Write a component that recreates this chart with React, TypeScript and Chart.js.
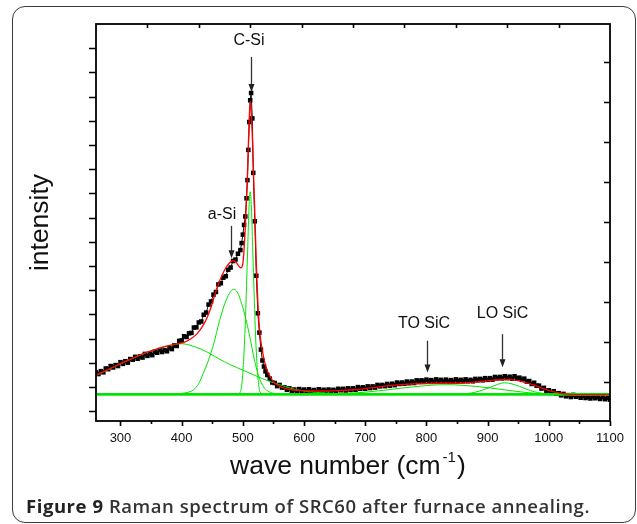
import React, { useEffect, useLayoutEffect, useRef } from "react";
import { Chart, registerables } from "chart.js";

Chart.register(...registerables);

// ---------- axes ----------
const X_MIN = 260;
const X_MAX = 1100;
const Y_MIN = -0.4;
const Y_MAX = 16;
const xMajorTicks = [300, 400, 500, 600, 700, 800, 900, 1000, 1100];
const xMinorTicks = [350, 450, 550, 650, 750, 850, 950, 1050];
const yLeftTicks = [0, 1, 2, 3, 4, 5, 6, 7, 8, 9, 10, 11, 12, 13, 14, 15];
const topTicks = [1, 2, 3, 4, 5, 6, 7, 8, 9];
const rightTicks = [1, 2, 3, 4, 5, 6, 7, 8, 9];

// ---------- measured spectrum (black squares) ----------
const spectrum: [number, number][] = [
  [260, 1.61], [264, 1.54], [268, 1.66], [272, 1.61], [276, 1.77], [280, 1.74], [284, 1.87], [288, 1.81],
  [292, 1.91], [296, 1.87], [300, 2.03], [304, 1.96], [308, 2.07], [312, 2.01], [316, 2.16], [320, 2.13],
  [324, 2.25], [328, 2.17], [332, 2.27], [336, 2.22], [340, 2.37], [344, 2.29], [348, 2.39], [352, 2.32],
  [356, 2.46], [360, 2.42], [364, 2.53], [368, 2.45], [372, 2.53], [376, 2.48], [380, 2.62], [384, 2.57],
  [388, 2.72], [392, 2.7], [396, 2.91], [400, 2.93], [404, 3.1], [408, 3.07], [412, 3.22], [416, 3.24],
  [420, 3.46], [424, 3.47], [428, 3.67], [432, 3.71], [436, 3.99], [440, 4.08], [444, 4.41], [448, 4.54],
  [452, 4.82], [456, 4.93], [460, 5.24], [464, 5.29], [468, 5.52], [472, 5.58], [476, 5.85], [480, 5.94],
  [484, 6.21], [488, 6.27], [492, 6.51], [496, 6.66],
  [498, 6.95], [500, 7.3], [502, 7.7], [504, 8.05], [506, 8.8], [507.5, 9.55], [509, 10.8], [510.5, 11.95],
  [512, 12.85], [513.5, 13.15], [515.5, 12.1], [517, 9.85], [519.5, 7.85], [522, 5.6], [524.5, 4.05],
  [527, 3.25], [529.5, 2.55], [532, 2.1], [534.5, 1.85], [537, 1.65], [540, 1.5],
  [544, 1.35], [548, 1.19], [552, 1.17], [556, 1.04], [560, 1.09], [564, 0.98], [568, 0.99], [572, 0.89],
  [576, 0.95], [580, 0.85], [584, 0.9], [588, 0.83], [592, 0.92], [596, 0.85], [600, 0.9], [604, 0.83],
  [608, 0.91], [612, 0.82], [616, 0.88], [620, 0.81], [624, 0.91], [628, 0.84], [632, 0.89], [636, 0.82],
  [640, 0.9], [644, 0.83], [648, 0.89], [652, 0.83], [656, 0.93], [660, 0.87], [664, 0.93], [668, 0.86],
  [672, 0.95], [676, 0.88], [680, 0.95], [684, 0.89], [688, 1.0], [692, 0.93], [696, 0.99], [700, 0.93],
  [704, 1.03], [708, 0.96], [712, 1.03], [716, 0.98], [720, 1.09], [724, 1.03], [728, 1.09], [732, 1.04],
  [736, 1.13], [740, 1.06], [744, 1.14], [748, 1.08], [752, 1.19], [756, 1.13], [760, 1.19], [764, 1.14],
  [768, 1.23], [772, 1.16], [776, 1.23], [780, 1.17], [784, 1.28], [788, 1.22], [792, 1.28], [796, 1.22],
  [800, 1.31], [804, 1.23], [808, 1.29], [812, 1.22], [816, 1.32], [820, 1.25], [824, 1.3], [828, 1.23],
  [832, 1.31], [836, 1.23], [840, 1.29], [844, 1.22], [848, 1.32], [852, 1.25], [856, 1.3], [860, 1.24],
  [864, 1.32], [868, 1.24], [872, 1.3], [876, 1.24], [880, 1.34], [884, 1.28], [888, 1.34], [892, 1.28],
  [896, 1.37], [900, 1.3], [904, 1.37], [908, 1.31], [912, 1.42], [916, 1.36], [920, 1.42], [924, 1.36],
  [928, 1.45], [932, 1.37], [936, 1.43], [940, 1.35], [944, 1.45], [948, 1.36], [952, 1.39], [956, 1.3],
  [960, 1.35], [964, 1.23], [968, 1.25], [972, 1.13], [976, 1.18], [980, 1.06], [984, 1.06], [988, 0.94],
  [992, 0.97], [996, 0.85], [1000, 0.87], [1004, 0.76], [1008, 0.83], [1012, 0.73], [1016, 0.75], [1020, 0.66],
  [1024, 0.72], [1028, 0.62], [1032, 0.67], [1036, 0.59], [1040, 0.68], [1044, 0.6], [1048, 0.64], [1052, 0.56],
  [1056, 0.64], [1060, 0.55], [1064, 0.6], [1068, 0.53], [1072, 0.62], [1076, 0.54], [1080, 0.59], [1084, 0.51],
  [1088, 0.59], [1092, 0.5], [1096, 0.56], [1100, 0.48],
];

// ---------- cumulative fit (red) ----------
const fitSum: [number, number][] = [
  [260, 1.5], [280, 1.73], [300, 1.97], [320, 2.2], [340, 2.41], [360, 2.58], [380, 2.72], [395, 2.8],
  [405, 2.86], [415, 3.0], [425, 3.2], [435, 3.55], [442, 3.9], [448, 4.3], [454, 4.8], [460, 5.25],
  [466, 5.62], [472, 5.92], [478, 6.13], [484, 6.22], [488, 6.18], [492, 6.05], [496, 5.93], [498, 5.95],
  [500, 6.1], [502, 6.7], [504, 7.6], [506, 8.75], [508, 10.2], [510, 11.8], [512, 12.8], [514, 12.2],
  [516, 11.0], [518, 9.4], [520, 7.8], [522, 6.1], [524, 4.8], [526, 3.8], [528, 3.2], [530, 2.8],
  [533, 2.35], [536, 2.0], [540, 1.68], [545, 1.42], [550, 1.22], [556, 1.1], [561, 1.02], [570, 0.94],
  [582, 0.88], [600, 0.85], [620, 0.84], [640, 0.84], [660, 0.86], [680, 0.89], [700, 0.94], [720, 1.0],
  [740, 1.06], [760, 1.1], [780, 1.13], [800, 1.15], [820, 1.16], [840, 1.16], [860, 1.17], [880, 1.21],
  [900, 1.26], [915, 1.3], [930, 1.32], [945, 1.29], [960, 1.21], [975, 1.09], [990, 0.95], [1005, 0.82],
  [1020, 0.74], [1035, 0.7], [1060, 0.69], [1100, 0.69],
];

// ---------- fitted components (green) ----------
const peakBroad: [number, number][] = [
  [260, 1.48], [280, 1.72], [300, 1.96], [320, 2.19], [340, 2.4], [360, 2.58], [380, 2.72], [400, 2.79],
  [420, 2.68], [440, 2.47], [460, 2.18], [480, 1.92], [500, 1.7], [520, 1.48], [540, 1.27], [560, 1.1],
  [580, 0.94], [600, 0.84], [620, 0.78], [650, 0.74], [700, 0.71], [760, 0.7],
];
const peakASi: [number, number][] = [
  [380, 0.7], [395, 0.72], [405, 0.76], [419, 0.88], [428, 1.15], [435, 1.55], [443, 2.05], [452, 2.75],
  [462, 3.75], [472, 4.55], [480, 4.95], [485, 5.04], [491, 4.92], [498, 4.45], [506, 3.7], [512, 3.0],
  [517, 2.35], [522, 1.8], [528, 1.3], [534, 1.0], [540, 0.85], [550, 0.74], [565, 0.7],
];
const peakCSi: [number, number][] = [
  [490, 0.7], [496, 0.8], [499, 1.29], [501.5, 2.2], [503.6, 3.36], [506, 5.2], [508, 6.8], [510, 8.4],
  [512, 9.07], [514, 8.4], [516, 6.8], [518, 5.2], [520.4, 3.36], [522.5, 2.2], [525, 1.29], [528, 0.8],
  [534, 0.7],
];
const peakTO: [number, number][] = [
  [600, 0.7], [640, 0.71], [670, 0.74], [700, 0.79], [730, 0.87], [760, 0.96], [790, 1.04], [815, 1.09],
  [835, 1.1], [855, 1.08], [880, 1.03], [905, 0.96], [930, 0.88], [955, 0.8], [980, 0.74], [1010, 0.71],
  [1040, 0.7],
];
const peakLO: [number, number][] = [
  [850, 0.7], [866, 0.73], [880, 0.79], [893, 0.89], [905, 1.0], [916, 1.11], [928, 1.18], [940, 1.13],
  [952, 1.03], [964, 0.91], [976, 0.81], [988, 0.75], [1000, 0.71], [1015, 0.7],
];
const baseline: [number, number][] = [
  [260, 0.7], [1100, 0.7],
];

// ---------- peak labels: text anchor and arrow (wavenumber, intensity) ----------
const peakLabels = [
  { text: "C-Si", tx: 510, ty: 15.31, ax: 512.8, aFrom: 14.64, aTo: 13.19 },
  { text: "a-Si", tx: 466, ty: 8.11, ax: 480.6, aFrom: 7.66, aTo: 6.32 },
  { text: "TO SiC", tx: 796, ty: 3.64, ax: 801, aFrom: 2.92, aTo: 1.6 },
  { text: "LO SiC", tx: 924.5, ty: 4.05, ax: 924, aFrom: 3.19, aTo: 1.82 },
];

const FONT = '"Liberation Sans", Arial, Helvetica, sans-serif';
const GREEN = "#00e400";
const CAPTION_WIDTH = 564;

const toXY = (arr: [number, number][]) => arr.map(([x, y]) => ({ x, y }));

const framePlugin = {
  id: "originFrame",
  afterDatasetsDraw(chart: any) {
    const { ctx, chartArea, scales } = chart;
    const { left, right, top, bottom } = chartArea;
    const xs = scales.x;
    const ys = scales.y;
    const xt = scales.xTop;
    const yr = scales.yRight;
    ctx.save();
    ctx.strokeStyle = "#000";
    ctx.lineWidth = 1.8;
    ctx.strokeRect(left, top, right - left, bottom - top);

    ctx.lineWidth = 1.6;
    ctx.beginPath();
    for (const v of yLeftTicks) {
      const p = Math.round(ys.getPixelForValue(v)) + 0.5;
      ctx.moveTo(left - 7, p);
      ctx.lineTo(left, p);
    }
    for (const v of xMajorTicks) {
      const p = Math.round(xs.getPixelForValue(v)) + 0.5;
      ctx.moveTo(p, bottom);
      ctx.lineTo(p, bottom + 5);
    }
    for (const v of xMinorTicks) {
      const p = Math.round(xs.getPixelForValue(v)) + 0.5;
      ctx.moveTo(p, bottom);
      ctx.lineTo(p, bottom + 3);
    }
    for (const v of topTicks) {
      const p = Math.round(xt.getPixelForValue(v)) + 0.5;
      ctx.moveTo(p, top);
      ctx.lineTo(p, top + 4);
    }
    for (const v of rightTicks) {
      const p = Math.round(yr.getPixelForValue(v)) + 0.5;
      ctx.moveTo(right - 6, p);
      ctx.lineTo(right, p);
    }
    ctx.stroke();

    // peak labels with arrows
    ctx.font = `16px ${FONT}`;
    ctx.textAlign = "center";
    ctx.textBaseline = "middle";
    for (const a of peakLabels) {
      ctx.fillStyle = "#111";
      ctx.fillText(a.text, xs.getPixelForValue(a.tx), ys.getPixelForValue(a.ty));
      const ax = Math.round(xs.getPixelForValue(a.ax)) + 0.5;
      const y1 = ys.getPixelForValue(a.aFrom);
      const y2 = ys.getPixelForValue(a.aTo);
      ctx.strokeStyle = "#333";
      ctx.lineWidth = 1.3;
      ctx.beginPath();
      ctx.moveTo(ax, y1);
      ctx.lineTo(ax, y2 - 6);
      ctx.stroke();
      ctx.fillStyle = "#222";
      ctx.beginPath();
      ctx.moveTo(ax - 3, y2 - 8);
      ctx.lineTo(ax + 3, y2 - 8);
      ctx.lineTo(ax, y2);
      ctx.closePath();
      ctx.fill();
    }
    ctx.restore();
  },
};

export default function App() {
  const canvasRef = useRef<HTMLCanvasElement | null>(null);
  const captionRef = useRef<HTMLDivElement | null>(null);

  useLayoutEffect(() => {
    const el = captionRef.current;
    if (!el) return;
    el.style.letterSpacing = "0px";
    const w = el.getBoundingClientRect().width;
    const n = (el.textContent || "").length;
    if (n > 1) el.style.letterSpacing = `${(CAPTION_WIDTH - w) / n}px`;
  }, []);

  useEffect(() => {
    if (!canvasRef.current) return;
    const lineDs = (label: string, data: [number, number][], color: string, width: number) => ({
      label,
      data: toXY(data),
      borderColor: color,
      borderWidth: width,
      pointRadius: 0,
      fill: false,
      cubicInterpolationMode: "monotone" as const,
    });
    const chart = new Chart(canvasRef.current, {
      type: "line",
      data: {
        datasets: [
          lineDs("Fit peak sum", fitSum, "#ff0000", 1.3),
          lineDs("Peak 1", peakBroad, GREEN, 1),
          lineDs("Peak 2 (a-Si)", peakASi, GREEN, 1),
          lineDs("Peak 3 (C-Si)", peakCSi, GREEN, 1),
          lineDs("Peak 4 (TO SiC)", peakTO, GREEN, 1),
          lineDs("Peak 5 (LO SiC)", peakLO, GREEN, 1),
          lineDs("Baseline", baseline, GREEN, 2.6),
          {
            label: "Spectrum",
            data: toXY(spectrum),
            borderColor: "#111",
            borderWidth: 1,
            pointStyle: "rect",
            pointRadius: 3.2,
            pointBackgroundColor: "#000",
            pointBorderWidth: 0,
            fill: false,
            tension: 0,
          },
        ],
      },
      options: {
        responsive: false,
        animation: false,
        devicePixelRatio: 1,
        events: [],
        layout: { padding: { top: 24, right: 27, left: 0, bottom: 0 } },
        plugins: {
          legend: { display: false },
          tooltip: { enabled: false },
        },
        scales: {
          x: {
            type: "linear",
            position: "bottom",
            min: X_MIN,
            max: X_MAX,
            afterBuildTicks: (s: any) => {
              s.ticks = xMajorTicks.map((v) => ({ value: v }));
            },
            afterFit: (s: any) => {
              s.height = 103;
            },
            grid: { display: false, drawTicks: false },
            border: { display: false },
            ticks: {
              font: { family: FONT, size: 13 },
              color: "#111",
              padding: 10,
              maxRotation: 0,
              autoSkip: false,
              callback: (v: any) => String(v),
            },
          },
          xTop: { type: "linear", position: "top", min: 0, max: 10, display: false },
          y: {
            type: "linear",
            position: "left",
            min: Y_MIN,
            max: Y_MAX,
            afterFit: (s: any) => {
              s.width = 96;
            },
            grid: { display: false, drawTicks: false },
            border: { display: false },
            ticks: { display: false },
            title: {
              display: true,
              text: "intensity",
              font: { family: FONT, size: 26.5 },
              color: "#111",
              padding: { top: 25, bottom: 0 },
            },
          },
          yRight: { type: "linear", position: "right", min: 0.025, max: 9.95, display: false },
        },
      },
      plugins: [framePlugin],
    } as any);
    return () => chart.destroy();
  }, []);

  return (
    <div
      style={{
        position: "absolute",
        left: 0,
        top: 0,
        width: 637,
        height: 524,
        background: "#fff",
        overflow: "hidden",
      }}
    >
      <div
        style={{
          position: "absolute",
          left: 12,
          top: 6,
          width: 624,
          height: 517,
          border: "1.5px solid #3c3c3c",
          borderRadius: 13,
          boxSizing: "border-box",
        }}
      />
      <canvas
        ref={canvasRef}
        width={637}
        height={524}
        style={{ position: "absolute", left: 0, top: 0, display: "block" }}
      />
      <div
        style={{
          position: "absolute",
          left: 230,
          top: 450,
          fontFamily: FONT,
          fontSize: 26.5,
          lineHeight: "30px",
          color: "#111",
          whiteSpace: "nowrap",
        }}
      >
        wave number (cm
        <span style={{ fontSize: 15, position: "relative", top: -12, marginLeft: 2 }}>-1</span>
        <span style={{ marginLeft: 1 }}>)</span>
      </div>
      <div
        ref={captionRef}
        style={{
          position: "absolute",
          left: 26,
          top: 496,
          fontFamily: '"Open Sans", "Noto Sans", sans-serif',
          fontSize: 18.5,
          lineHeight: "20px",
          color: "#333",
          whiteSpace: "nowrap",
        }}
      >
        <span style={{ fontWeight: 700, color: "#222" }}>Figure 9</span>{" "}
        <span style={{ fontWeight: 600 }}>Raman spectrum of SRC60 after furnace annealing.</span>
      </div>
    </div>
  );
}
